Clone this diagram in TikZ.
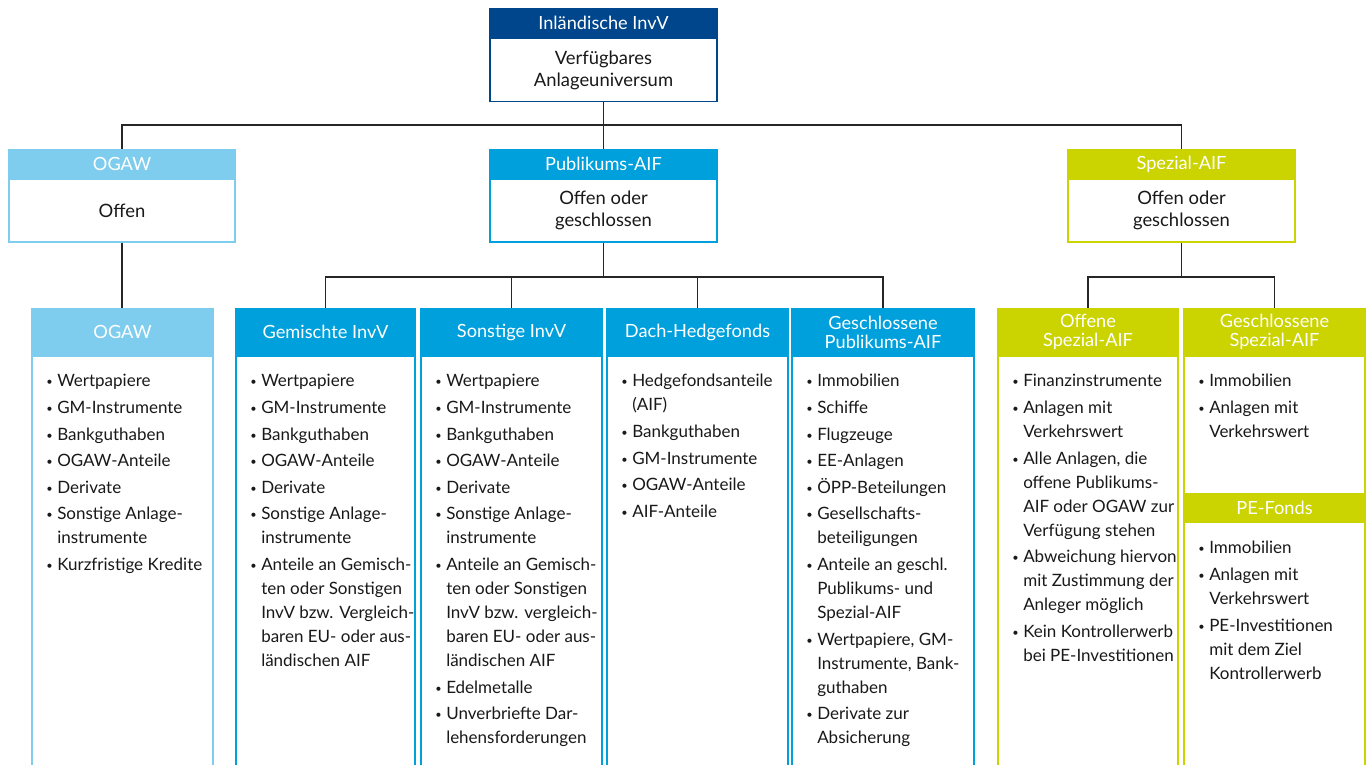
\documentclass[tikz,border=0pt]{standalone}
\usepackage{fontspec}
\setmainfont{Lato}
\usetikzlibrary{positioning}

\definecolor{dunkelblau}{RGB}{0,70,140}
\definecolor{hellblau}{RGB}{127,205,238}
\definecolor{mittelblau}{RGB}{0,160,220}
\definecolor{gruengelb}{RGB}{203,211,0}

\newcommand{\bu}{\makebox[11pt][l]{\raisebox{1pt}{\fontsize{11}{11}\selectfont\textbullet}}}
\newcommand{\ind}{\hspace*{11pt}}

\tikzset{
  kopf/.style={rectangle, fill=#1, text=white, inner sep=0pt, minimum height=30pt,
    align=center, font=\fontsize{18.2}{19}\selectfont},
  rumpf/.style={rectangle, draw=#1, line width=1.5pt, fill=white, inner sep=0pt,
    align=center, text=black!90, font=\fontsize{18.4}{22}\selectfont},
  liste/.style={anchor=north west, inner sep=0pt, align=left, text=black!90,
    font=\fontsize{17}{24}\selectfont},
  verb/.style={line width=1.3pt, black!85}
}

\begin{document}
\begin{tikzpicture}[x=1pt,y=-1pt]
  \useasboundingbox (0,0) rectangle (1370,765);
  \clip (0,0) rectangle (1370,765);

  % oberste Ebene
  \node[rumpf=dunkelblau, minimum width=227pt, minimum height=63pt] (invvb) at (603.5,70) {Verfügbares\\Anlageuniversum};
  \node[kopf=dunkelblau, minimum width=228.5pt] (invvk) at (603.5,23) {Inländische InvV};

  % mittlere Ebene
  \node[rumpf=hellblau, minimum width=226pt, minimum height=63pt] (ogawmb) at (122,210.5) {Offen};
  \node[kopf=hellblau, minimum width=227.5pt] (ogawmk) at (122,164) {OGAW};
  \node[rumpf=mittelblau, minimum width=227pt, minimum height=63pt] (publb) at (603.5,210.5) {Offen oder\\geschlossen};
  \node[kopf=mittelblau, minimum width=228.5pt] (publk) at (603.5,164) {Publikums-AIF};
  \node[rumpf=gruengelb, minimum width=227pt, minimum height=63pt] (spezb) at (1181.5,210.5) {Offen oder\\geschlossen};
  \node[kopf=gruengelb, minimum width=228.5pt] (spezk) at (1181.5,164) {Spezial-AIF};

  % untere Ebene
  \node[rumpf=hellblau, minimum width=181pt, minimum height=424pt] (ogawb) at (122.5,568) {};
  \node[kopf=hellblau, minimum width=182.5pt, minimum height=48pt] (ogawk) at (122.5,332) {OGAW};
  \node[rumpf=mittelblau, minimum width=179pt, minimum height=424pt] (gemb) at (325.5,568) {};
  \node[kopf=mittelblau, minimum width=180.5pt, minimum height=48pt] (gemk) at (325.5,332) {Gemischte InvV};
  \node[rumpf=mittelblau, minimum width=181pt, minimum height=424pt] (sonb) at (511.5,568) {};
  \node[kopf=mittelblau, minimum width=182.5pt, minimum height=48pt] (sonk) at (511.5,332) {Sonstige InvV};
  \node[rumpf=mittelblau, minimum width=181pt, minimum height=424pt] (dachb) at (697.5,568) {};
  \node[kopf=mittelblau, minimum width=182.5pt, minimum height=48pt] (dachk) at (697.5,332) {Dach-Hedgefonds};
  \node[rumpf=mittelblau, minimum width=182pt, minimum height=424pt] (gpb) at (883,568) {};
  \node[kopf=mittelblau, minimum width=183.5pt, minimum height=48pt] (gpk) at (883,332) {Geschlossene\\Publikums-AIF};
  \node[rumpf=gruengelb, minimum width=180pt, minimum height=424pt] (osb) at (1088,568) {};
  \node[kopf=gruengelb, minimum width=181.5pt, minimum height=48pt] (osk) at (1088,332) {Offene\\Spezial-AIF};
  \node[rumpf=gruengelb, minimum width=181pt, minimum height=424pt] (gsb) at (1274.5,568) {};
  \node[kopf=gruengelb, minimum width=182.5pt, minimum height=48pt] (gsk) at (1274.5,332) {Geschlossene\\Spezial-AIF};
  \node[kopf=gruengelb, minimum width=182.5pt] (pek) at (1274.5,508) {PE-Fonds};

  % Listen
  \node[liste, below right=18pt and 15pt of ogawk.south west] (ogawl) {%
    \bu Wertpapiere\\[2.6pt]
    \bu GM-Instrumente\\[2.6pt]
    \bu Bankguthaben\\[2.6pt]
    \bu OGAW-Anteile\\[2.6pt]
    \bu Derivate\\[2.6pt]
    \bu Sonstige Anlage-\\ \ind instrumente\\[2.6pt]
    \bu Kurzfristige Kredite};
  \node[liste, below right=18pt and 15pt of gemk.south west] (geml) {%
    \bu Wertpapiere\\[2.6pt]
    \bu GM-Instrumente\\[2.6pt]
    \bu Bankguthaben\\[2.6pt]
    \bu OGAW-Anteile\\[2.6pt]
    \bu Derivate\\[2.6pt]
    \bu Sonstige Anlage-\\ \ind instrumente\\[2.6pt]
    \bu Anteile an Gemisch-\\ \ind ten oder Sonstigen\\ \ind InvV bzw. Vergleich-\\ \ind baren EU- oder aus-\\ \ind ländischen AIF};
  \node[liste, below right=18pt and 15pt of sonk.south west] (sonl) {%
    \bu Wertpapiere\\[2.6pt]
    \bu GM-Instrumente\\[2.6pt]
    \bu Bankguthaben\\[2.6pt]
    \bu OGAW-Anteile\\[2.6pt]
    \bu Derivate\\[2.6pt]
    \bu Sonstige Anlage-\\ \ind instrumente\\[2.6pt]
    \bu Anteile an Gemisch-\\ \ind ten oder Sonstigen\\ \ind InvV bzw. vergleich-\\ \ind baren EU- oder aus-\\ \ind ländischen AIF\\[2.6pt]
    \bu Edelmetalle\\[2.6pt]
    \bu Unverbriefte Dar-\\ \ind lehensforderungen};
  \node[liste, below right=18pt and 15pt of dachk.south west] (dachl) {%
    \bu Hedgefondsanteile\\ \ind (AIF)\\[2.6pt]
    \bu Bankguthaben\\[2.6pt]
    \bu GM-Instrumente\\[2.6pt]
    \bu OGAW-Anteile\\[2.6pt]
    \bu AIF-Anteile};
  \node[liste, below right=18pt and 15pt of gpk.south west] (gpl) {%
    \bu Immobilien\\[2.6pt]
    \bu Schiffe\\[2.6pt]
    \bu Flugzeuge\\[2.6pt]
    \bu EE-Anlagen\\[2.6pt]
    \bu ÖPP-Beteilungen\\[2.6pt]
    \bu Gesellschafts-\\ \ind beteiligungen\\[2.6pt]
    \bu Anteile an geschl.\\ \ind Publikums- und\\ \ind Spezial-AIF\\[2.6pt]
    \bu Wertpapiere, GM-\\ \ind Instrumente, Bank-\\ \ind guthaben\\[2.6pt]
    \bu Derivate zur\\ \ind Absicherung};
  \node[liste, below right=18pt and 15pt of osk.south west] (osl) {%
    \bu Finanzinstrumente\\[2.6pt]
    \bu Anlagen mit\\ \ind Verkehrswert\\[2.6pt]
    \bu Alle Anlagen, die\\ \ind offene Publikums-\\ \ind AIF oder OGAW zur\\ \ind Verfügung stehen\\[2.6pt]
    \bu Abweichung hiervon\\ \ind mit Zustimmung der\\ \ind Anleger möglich\\[2.6pt]
    \bu Kein Kontrollerwerb\\ \ind bei PE-Investitionen};
  \node[liste, below right=18pt and 15pt of gsk.south west] (gsl) {%
    \bu Immobilien\\[2.6pt]
    \bu Anlagen mit\\ \ind Verkehrswert};
  \node[liste, below right=18pt and 15pt of pek.south west] (pel) {%
    \bu Immobilien\\[2.6pt]
    \bu Anlagen mit\\ \ind Verkehrswert\\[2.6pt]
    \bu PE-Investitionen\\ \ind mit dem Ziel\\ \ind Kontrollerwerb};

  % Verbindungen
  \coordinate (bus0) at (603.5,125);
  \coordinate (bus1) at (603.5,277);
  \coordinate (bus2) at (1181.5,277);
  \draw[verb] (invvb.south) -- (bus0);
  \draw[verb] (ogawmk.north) |- (bus0) -| (spezk.north);
  \draw[verb] (bus0) -- (publk.north);
  \draw[verb] (ogawmb.south) -- (ogawmb.south |- ogawk.north);
  \draw[verb] (publb.south) -- (bus1);
  \draw[verb] (gemk.north) |- (bus1) -| (gpk.north);
  \draw[verb] (sonk.north) -- (sonk.north |- bus1);
  \draw[verb] (dachk.north) -- (dachk.north |- bus1);
  \draw[verb] (spezb.south) -- (bus2);
  \draw[verb] (osk.north) |- (bus2) -| (gsk.north);
\end{tikzpicture}
\end{document}
